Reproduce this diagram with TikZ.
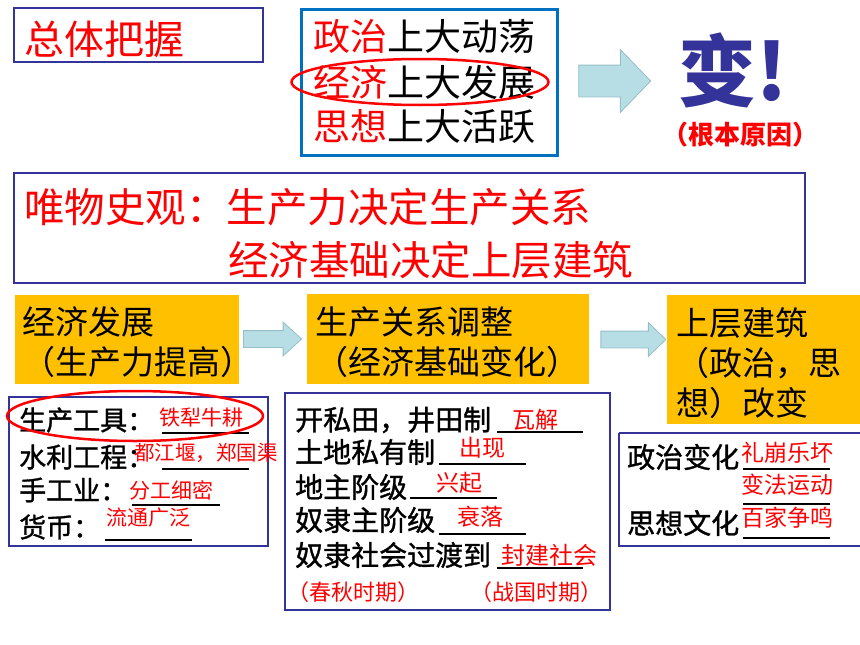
\documentclass[tikz,border=0pt]{standalone}
\usepackage{fontspec}
\setmainfont{Noto Sans CJK SC}
\newfontfamily\heavy{Noto Sans CJK SC}[FakeBold=1.2]
\usetikzlibrary{shapes.geometric,shapes.arrows}
\definecolor{frame}{RGB}{51,51,153}
\definecolor{sky}{RGB}{0,112,192}
\definecolor{gold}{RGB}{255,192,0}
\definecolor{aqua}{RGB}{183,222,228}
\definecolor{aquaedge}{RGB}{150,190,200}

\begin{document}
\begin{tikzpicture}[x=1pt,y=-1pt]
\tikzset{box/.style = {draw=frame,line width=2.5pt}}
\tikzset{tag/.style = {fill=gold,inner sep=0pt}}
\tikzset{word/.style = {anchor=west,inner sep=0pt,font=\heavy\fontsize{28}{30}\selectfont}}
\tikzset{note/.style = {anchor=west,inner sep=0pt,text=red,font=\fontsize{23}{25}\selectfont}}
\tikzset{big/.style = {anchor=west,inner sep=0pt,font=\fontsize{33}{35}\selectfont}}
\tikzset{blank/.style = {line width=1.3pt}}
\tikzset{ring/.style = {ellipse,draw=red,line width=2.5pt,inner sep=0pt}}
\tikzset{push/.style = {single arrow,fill=aqua,draw=aquaedge,line width=0.8pt,
		inner xsep=0pt,single arrow head indent=0pt}}
\useasboundingbox (0,0) rectangle (860,645);

% top row
\draw[box] (14,8) rectangle (263,62);
\node[anchor=west,inner sep=0pt,text=red,font=\fontsize{40}{42}\selectfont] (whole) at (24,39) {总体把握};
\draw[draw=sky,line width=3pt] (301,9) rectangle (557,155);
\node[anchor=west,inner sep=0pt,font=\fontsize{37}{40}\selectfont] (pol) at (313,37) {\textcolor{red}{政治}上大动荡};
\node[anchor=west,inner sep=0pt,font=\fontsize{37}{40}\selectfont] (eco) at (313,82) {\textcolor{red}{经济}上大发展};
\node[anchor=west,inner sep=0pt,font=\fontsize{37}{40}\selectfont] (ide) at (313,127) {\textcolor{red}{思想}上大活跃};
\node[ring,minimum width=257pt,minimum height=46pt] (ring1) at (420,82) {};
\node[push,minimum height=72pt,inner ysep=15.5pt,single arrow head extend=15.5pt,
	single arrow tip angle=92] (p0) at (607,81) {};
\node[anchor=west,inner sep=0pt,text=frame,font=\fontsize{78}{80}\selectfont\bfseries] (bian) at (678,70) {变!};
\node[anchor=west,inner sep=0pt,text=red,font=\fontsize{26}{28}\selectfont\bfseries] (root) at (662,135) {（根本原因）};

% law box
\draw[box] (14,173) rectangle (805,283);
\node[anchor=west,inner sep=0pt,text=red,font=\fontsize{40.5}{42}\selectfont] (law1) at (24,207) {唯物史观：生产力决定生产关系};
\node[anchor=west,inner sep=0pt,text=red,font=\fontsize{40.5}{42}\selectfont] (law2) at (228,260) {经济基础决定上层建筑};

% orange row
\node[tag,minimum width=224pt,minimum height=89pt] (dev) at (127,339) {};
\node[tag,minimum width=282pt,minimum height=90pt] (rel) at (448,339) {};
\node[tag,minimum width=193pt,minimum height=129pt] (sup) at (763.5,359.5) {};
\node[big] (dev1) at (22,322) {经济发展};
\node[big] (dev2) at (22,362) {（生产力提高）};
\node[big] (rel1) at (315,322) {生产关系调整};
\node[big] (rel2) at (315,362) {（经济基础变化）};
\node[big] (sup1) at (676,323) {上层建筑};
\node[big] (sup2) at (676,363) {（政治，思};
\node[big] (sup3) at (676,403) {想）改变};
\node[push,minimum height=58pt,inner ysep=8pt,single arrow head extend=8.5pt,
	single arrow tip angle=85] (p1) at (268,339) {};
\node[push,minimum height=65pt,inner ysep=8pt,single arrow head extend=8.5pt,
	single arrow tip angle=88] (p2) at (629,339.5) {};

% left box
\draw[box] (9,397) rectangle (268,546);
\node[word,font=\heavy\fontsize{27}{29}\selectfont] (tool) at (19,420) {生产工具：};
\node[word,font=\heavy\fontsize{27}{29}\selectfont] (water) at (19,457) {水利工程：};
\node[word,font=\heavy\fontsize{27}{29}\selectfont] (craft) at (19,490) {手工业：};
\node[word,font=\heavy\fontsize{27}{29}\selectfont] (coin) at (19,527) {货币：};
\draw[blank] (162,433) -- (249,433);
\draw[blank] (162,469) -- (249,469);
\draw[blank] (132,505) -- (220,505);
\draw[blank] (105,540) -- (192,540);
\node[note,font=\fontsize{21}{23}\selectfont] (tool0) at (159,418) {铁犁牛耕};
\node[note,font=\fontsize{20.5}{23}\selectfont] (water0) at (134,453) {都江堰，郑国渠};
\node[note,font=\fontsize{21}{23}\selectfont] (craft0) at (129,490) {分工细密};
\node[note,font=\fontsize{21}{23}\selectfont] (coin0) at (106,518) {流通广泛};
\node[ring,minimum width=256pt,minimum height=50pt] (ring2) at (135,416) {};

% middle box
\draw[box] (285,393) rectangle (610,610);
\node[word] (m1) at (295,420) {开私田，井田制};
\node[word] (m2) at (295,452) {土地私有制};
\node[word] (m3) at (295,487) {地主阶级};
\node[word] (m4) at (295,520) {奴隶主阶级};
\node[word] (m5) at (295,555) {奴隶社会过渡到};
\draw[blank] (497,432) -- (583,432);
\draw[blank] (439,464) -- (526,464);
\draw[blank] (410,498) -- (497,498);
\draw[blank] (439,534) -- (526,534);
\draw[blank] (497,568) -- (583,568);
\node[note] (m10) at (512,420) {瓦解};
\node[note] (m20) at (459,448) {出现};
\node[note] (m30) at (436,483) {兴起};
\node[note] (m40) at (457,517) {衰落};
\node[note,font=\fontsize{24}{26}\selectfont] (m50) at (501,555) {封建社会};
\node[note,font=\fontsize{22}{24}\selectfont] (spr) at (287,592) {（春秋时期）};
\node[note,font=\fontsize{22}{24}\selectfont] (war) at (470,592) {（战国时期）};

% right box
\draw[box] (619,433) -- (860,433) (860,546) -- (619,546) -- (619,433);
\node[word] (r1) at (627,457) {政治变化};
\node[word] (r2) at (627,523) {思想文化};
\draw[blank] (743,469) -- (830,469);
\draw[blank] (743,504) -- (830,504);
\draw[blank] (743,538) -- (830,538);
\node[note] (r10) at (741,453) {礼崩乐坏};
\node[note] (r20) at (741,485) {变法运动};
\node[note] (r30) at (741,518) {百家争鸣};
\end{tikzpicture}
\end{document}
